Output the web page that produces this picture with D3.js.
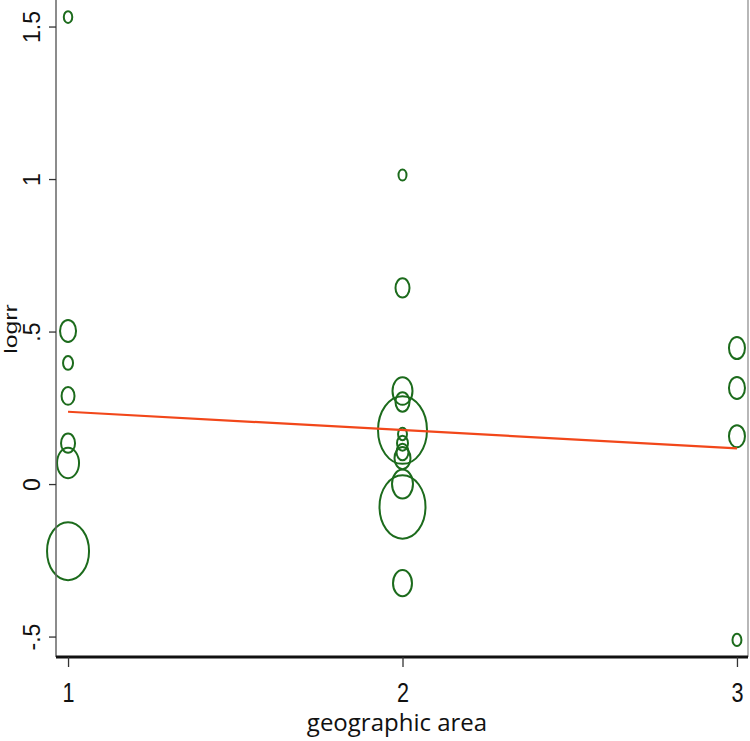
<!DOCTYPE html>
<html><head><meta charset="utf-8">
<script src="https://cdn.jsdelivr.net/npm/d3@7"></script>
<style>body{margin:0;background:#fff}svg{display:block}</style>
</head><body>
<svg id="c" width="750" height="741"></svg>
<script>
// geographic area for each study
const area = [1,1,1,1,1,1,1, 2,2,2,2,2,2,2,2,2,2,2,2, 3,3,3,3];
// log relative risk
const logrr = [1.531,0.502,0.397,0.289,0.134,0.069,-0.220,
               1.013,0.643,0.305,0.269,0.177,0.164,0.134,0.105,0.085,0.000,-0.075,-0.325,
               0.446,0.315,0.157,-0.511];
// study weights (bubble size)
const weight = [18,64,25,42,49,121,441,
                16,49,100,49,600,20,30,36,64,110,529,90,
                64,64,64,20];
// meta-regression fitted line
const fitX = [1,3];
const fitY = [0.237,0.117];
const xTicks = [1,2,3];
const yTicks = [-0.5,0,0.5,1,1.5];
const yTickLabels = ["-.5","0",".5","1","1.5"];

const svg = d3.select("#c");
const L=56, R=748, T=0, B=657;
const x = d3.scaleLinear().domain([0.964,3.033]).range([L,R]);
const y = d3.scaleLinear().domain([1.587,-0.567]).range([T,B]);
const r = d3.scaleSqrt().domain([0,625]).range([0,25]);
const aspect = 1.38;

// right frame line
svg.append("line").attr("x1",R).attr("x2",R).attr("y1",T).attr("y2",B)
  .attr("stroke","#888").attr("stroke-width",1.2);

// bubbles
const pts = area.map((a,i)=>({a, v:logrr[i], w:weight[i]}));
svg.append("g").selectAll("ellipse").data(pts).join("ellipse")
  .attr("cx",d=>x(d.a)).attr("cy",d=>y(d.v))
  .attr("rx",d=>r(d.w)).attr("ry",d=>r(d.w)*aspect)
  .attr("fill","none").attr("stroke","#1c6b1c").attr("stroke-width",2);

// fitted line
svg.append("path").datum(fitX.map((xv,i)=>[xv,fitY[i]]))
  .attr("d",d3.line().x(d=>x(d[0])).y(d=>y(d[1])))
  .attr("fill","none").attr("stroke","#f2471a").attr("stroke-width",2.2);

// y axis
const ya = svg.append("g").attr("transform",`translate(${L},0)`)
  .call(d3.axisLeft(y).tickValues(yTicks).tickFormat((d,i)=>yTickLabels[i]).tickSize(7).tickSizeOuter(0));
ya.select(".domain").attr("stroke","#666").attr("stroke-width",1.5).attr("d",`M0,${T}V${B}`);
ya.selectAll(".tick line").attr("stroke","#333").attr("stroke-width",1.3);
ya.selectAll(".tick text").attr("transform","rotate(-90)").attr("x",0).attr("y",-16).attr("dy",0)
  .attr("text-anchor","middle").attr("fill","#111")
  .style("font-family","'Liberation Sans',Arial,sans-serif").style("font-size","23px");

// x axis
const xa = svg.append("g").attr("transform",`translate(0,${B})`)
  .call(d3.axisBottom(x).tickValues(xTicks).tickFormat(d3.format("d")).tickSize(10).tickSizeOuter(0));
xa.select(".domain").attr("stroke","#111").attr("stroke-width",3).attr("d",`M${L},0H${R}`);
xa.selectAll(".tick line").attr("stroke","#333").attr("stroke-width",1.3);
xa.selectAll(".tick text").attr("y",45).attr("dy",0).attr("transform","scale(0.8,1)")
  .attr("fill","#111")
  .style("font-family","'Liberation Sans',Arial,sans-serif").style("font-size","27px");

// axis titles
svg.append("text").attr("x",397).attr("y",731).attr("text-anchor","middle")
  .style("font-family","'Open Sans',sans-serif").style("font-size","24px").attr("fill","#111")
  .text("geographic area");
svg.append("text").attr("transform","translate(17,329) rotate(-90) scale(1.3,1)").attr("text-anchor","middle")
  .style("font-family","'Liberation Sans',Arial,sans-serif").style("font-size","19px").attr("fill","#111")
  .text("logrr");
</script>
</body></html>
